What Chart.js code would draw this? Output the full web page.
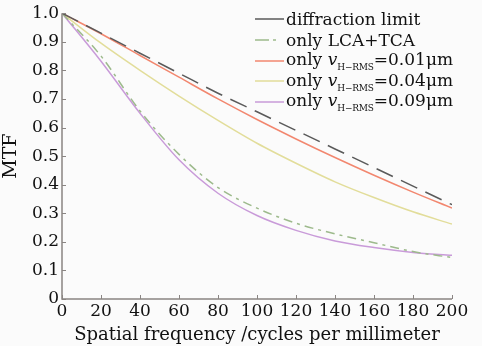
<!DOCTYPE html>
<html>
<head>
<meta charset="utf-8">
<script src="https://cdn.jsdelivr.net/npm/chart.js@4.4.1/dist/chart.umd.min.js"></script>
<style>
  html, body { margin: 0; padding: 0; background: #fbfbfb; }
  #wrap { position: relative; width: 482px; height: 346px; }
  #legend { position: absolute; left: 255px; top: 9px; font-family: "DejaVu Serif", serif; font-size: 17px; color: #111; }
  .row { height: 20.7px; line-height: 20.7px; white-space: nowrap; display: flex; align-items: center; }
  .row svg { width: 29px; height: 4px; margin-right: 2px; }
  .sub { font-size: 9px; position: relative; top: 5px; letter-spacing: -0.2px; }
</style>
</head>
<body>
<div id="wrap">
  <canvas id="chart" width="482" height="346"></canvas>
  <div id="legend"></div>
</div>
<script>
const freq = [0, 20, 40, 60, 80, 100, 120, 140, 160, 180, 200];
const diffraction = [1.0, 0.93, 0.86, 0.79, 0.72, 0.655, 0.59, 0.525, 0.46, 0.395, 0.33];
const lcaTca = [1.0, 0.85, 0.658, 0.506, 0.39, 0.318, 0.265, 0.228, 0.197, 0.166, 0.145];
const rms001 = [1.0, 0.928, 0.852, 0.776, 0.70, 0.628, 0.56, 0.495, 0.433, 0.374, 0.318];
const rms004 = [1.0, 0.895, 0.80, 0.71, 0.625, 0.545, 0.475, 0.41, 0.355, 0.305, 0.262];
const rms009 = [1.0, 0.832, 0.65, 0.487, 0.37, 0.292, 0.24, 0.203, 0.18, 0.163, 0.153];

const xTicks = [0, 20, 40, 60, 80, 100, 120, 140, 160, 180, 200];
const yTicks = [0, 0.1, 0.2, 0.3, 0.4, 0.5, 0.6, 0.7, 0.8, 0.9, 1.0];

const series = [
  { label: 'diffraction limit', data: diffraction, color: '#5a5a5a', dash: [18, 9], legendDash: [] },
  { label: 'only LCA+TCA', data: lcaTca, color: '#9dba8c', dash: [9, 5, 3, 5], legendDash: [14, 4, 3, 9] },
  { label: 'only v_H-RMS=0.01μm', val: '0.01', data: rms001, color: '#f2876f', dash: [] },
  { label: 'only v_H-RMS=0.04μm', val: '0.04', data: rms004, color: '#e2dd9a', dash: [] },
  { label: 'only v_H-RMS=0.09μm', val: '0.09', data: rms009, color: '#c99bd9', dash: [] }
];

const font = "'DejaVu Serif', serif";
const ink = '#111';

// inward tick marks like the original plot
const innerTicks = {
  id: 'innerTicks',
  afterDraw(c) {
    const ctx = c.ctx, x = c.scales.x, y = c.scales.y, a = c.chartArea;
    ctx.save();
    ctx.strokeStyle = '#8a8583';
    ctx.lineWidth = 1;
    ctx.beginPath();
    xTicks.forEach(t => {
      const px = Math.round(x.getPixelForValue(t)) + 0.5;
      ctx.moveTo(px, a.bottom); ctx.lineTo(px, a.bottom - 4);
    });
    yTicks.forEach(t => {
      const py = Math.round(y.getPixelForValue(t)) + 0.5;
      ctx.moveTo(a.left, py); ctx.lineTo(a.left + 4, py);
    });
    ctx.stroke();
    ctx.lineWidth = 1.5;
    ctx.beginPath();
    ctx.moveTo(a.left, a.top); ctx.lineTo(a.left, a.bottom); ctx.lineTo(a.right, a.bottom);
    ctx.stroke();
    ctx.restore();
  }
};

new Chart(document.getElementById('chart'), {
  type: 'line',
  data: {
    labels: freq,
    datasets: series.map(s => ({
      label: s.label,
      data: freq.map((f, i) => ({ x: f, y: s.data[i] })),
      borderColor: s.color,
      borderDash: s.dash,
      borderWidth: 1.5,
      pointRadius: 0,
      fill: false,
      cubicInterpolationMode: 'monotone'
    }))
  },
  options: {
    responsive: false,
    animation: false,
    layout: { padding: { top: 13, right: 30, left: 0, bottom: 0 } },
    plugins: { legend: { display: false }, tooltip: { enabled: false } },
    scales: {
      x: {
        type: 'linear', min: 0, max: 200,
        afterFit: s => { s.height = 47; },
        grid: { display: false, drawTicks: false },
        border: { display: false },
        afterBuildTicks: s => { s.ticks = xTicks.map(v => ({ value: v })); },
        ticks: { color: ink, font: { family: font, size: 17 }, padding: 2, maxRotation: 0 },
        title: { display: true, text: 'Spatial frequency /cycles per millimeter', color: ink, font: { family: font, size: 18 }, padding: { top: 0, bottom: 0 } }
      },
      y: {
        min: 0, max: 1,
        afterFit: s => { s.width = 62; },
        grid: { display: false, drawTicks: false },
        border: { display: false },
        afterBuildTicks: s => { s.ticks = yTicks.map(v => ({ value: v })); },
        ticks: { color: ink, font: { family: font, size: 17 }, padding: 3,
          callback: v => v === 0 ? '0' : v.toFixed(1) },
        title: { display: true, text: 'MTF', color: ink, font: { family: font, size: 19 }, padding: { top: 0, bottom: 0 } }
      }
    }
  },
  plugins: [innerTicks]
});

// legend with subscript text
const legend = document.getElementById('legend');
series.forEach(s => {
  const row = document.createElement('div');
  row.className = 'row';
  const dash = (s.legendDash || s.dash).join(' ');
  row.innerHTML = `<svg><line x1="0" y1="2" x2="29" y2="2" stroke="${s.color}" stroke-width="1.5" stroke-dasharray="${dash}"/></svg>`;
  const txt = document.createElement('span');
  if (s.val) {
    txt.innerHTML = `only <i>v</i><span class="sub">H\u2212RMS</span>=${s.val}\u03bcm`;
  } else {
    txt.textContent = s.label;
  }
  row.appendChild(txt);
  legend.appendChild(row);
});
</script>
</body>
</html>
